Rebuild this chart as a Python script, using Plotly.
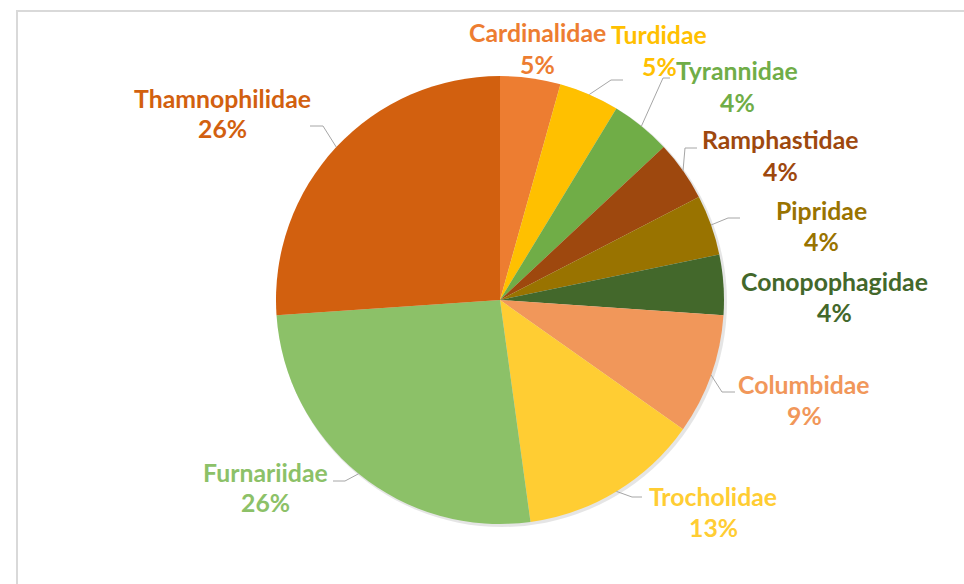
import math
import plotly.graph_objects as go

# ---- data ----
families = ["Cardinalidae", "Turdidae", "Tyrannidae", "Ramphastidae", "Pipridae",
            "Conopophagidae", "Columbidae", "Trocholidae", "Furnariidae", "Thamnophilidae"]
species_counts = [1, 1, 1, 1, 1, 1, 2, 3, 6, 6]
pct_labels = ["5%", "5%", "4%", "4%", "4%", "4%", "9%", "13%", "26%", "26%"]

# ---- styles ----
colors = ["#ED7D31", "#FFC000", "#70AD47", "#9E480E", "#997300",
          "#43682B", "#F1975A", "#FFCD33", "#8CC168", "#D2600F"]

W, H = 964, 584
PIE_CX, PIE_CY, PIE_R = 500, 300, 224  # pixel geometry of the pie
FONT_SIZE = 24.8

# label centres (pixels): name line; percentage line sits 31px below
label_pos = [(537, 33), (659, 35), (737, 71), (780, 140), (821, 210),
             (834, 281), (804, 384), (713, 496), (265, 472), (222, 98)]
# leader lines: elbow and end points (pixels); None = no leader
leader_elbow = [None, (611, 80), (663, 78), (685, 148), (728, 218),
                None, (722, 392), (632, 497), (345, 481), (323, 126)]
leader_end = [None, (623, 80), (670, 78), (697, 148), (740, 218),
              None, (735, 392), (642, 497), (333, 481), (310, 126)]


def px(x):
    return x / W


def py(y):
    return 1 - y / H


fig = go.Figure()

# soft shadow
fig.add_trace(go.Pie(
    values=[1], labels=["shadow"], marker=dict(colors=["rgba(0,0,0,0.10)"], line=dict(width=0)),
    textinfo="none", hoverinfo="skip", showlegend=False, sort=False,
    domain=dict(x=[px(PIE_CX - PIE_R + 1), px(PIE_CX + PIE_R + 3)],
                y=[py(PIE_CY + PIE_R + 3), py(PIE_CY - PIE_R + 1)]),
))

fig.add_trace(go.Pie(
    labels=families, values=species_counts, sort=False, direction="clockwise", rotation=0,
    marker=dict(colors=colors, line=dict(width=0)),
    textinfo="none", showlegend=False,
    domain=dict(x=[px(PIE_CX - PIE_R), px(PIE_CX + PIE_R)],
                y=[py(PIE_CY + PIE_R), py(PIE_CY - PIE_R)]),
))

total = sum(species_counts)
cum = 0
annotations = []
shapes = []
for i, (name, v) in enumerate(zip(families, species_counts)):
    mid = (cum + v / 2) / total * 2 * math.pi
    cum += v
    ex = PIE_CX + PIE_R * math.sin(mid)
    ey = PIE_CY - PIE_R * math.cos(mid)
    lx, ly = label_pos[i]
    font = dict(family="Lato", size=FONT_SIZE, color=colors[i], weight="bold")
    annotations.append(dict(x=px(lx), y=py(ly), xref="paper", yref="paper", text=name,
                            showarrow=False, xanchor="center", yanchor="middle", font=font))
    annotations.append(dict(x=px(lx), y=py(ly + 31), xref="paper", yref="paper", text=pct_labels[i],
                            showarrow=False, xanchor="center", yanchor="middle", font=font))
    if leader_elbow[i] is not None:
        bx, by = leader_elbow[i]
        cx, cy = leader_end[i]
        shapes.append(dict(type="path", xref="paper", yref="paper",
                           path=f"M {px(ex)} {py(ey)} L {px(bx)} {py(by)} L {px(cx)} {py(cy)}",
                           line=dict(color="#A6A6A6", width=1)))

# chart frame (partial, as cropped)
shapes.append(dict(type="path", xref="paper", yref="paper",
                   path=f"M {px(17)} {py(584)} L {px(17)} {py(11)} L {px(964)} {py(11)}",
                   line=dict(color="#D9D9D9", width=2)))

fig.update_layout(
    width=W, height=H, margin=dict(l=0, r=0, t=0, b=0),
    paper_bgcolor="white", plot_bgcolor="white",
    annotations=annotations, shapes=shapes, showlegend=False,
)

fig.write_html("out.html", config={"displayModeBar": False},
               post_script="document.body.style.margin='0';document.body.style.overflow='hidden';")
